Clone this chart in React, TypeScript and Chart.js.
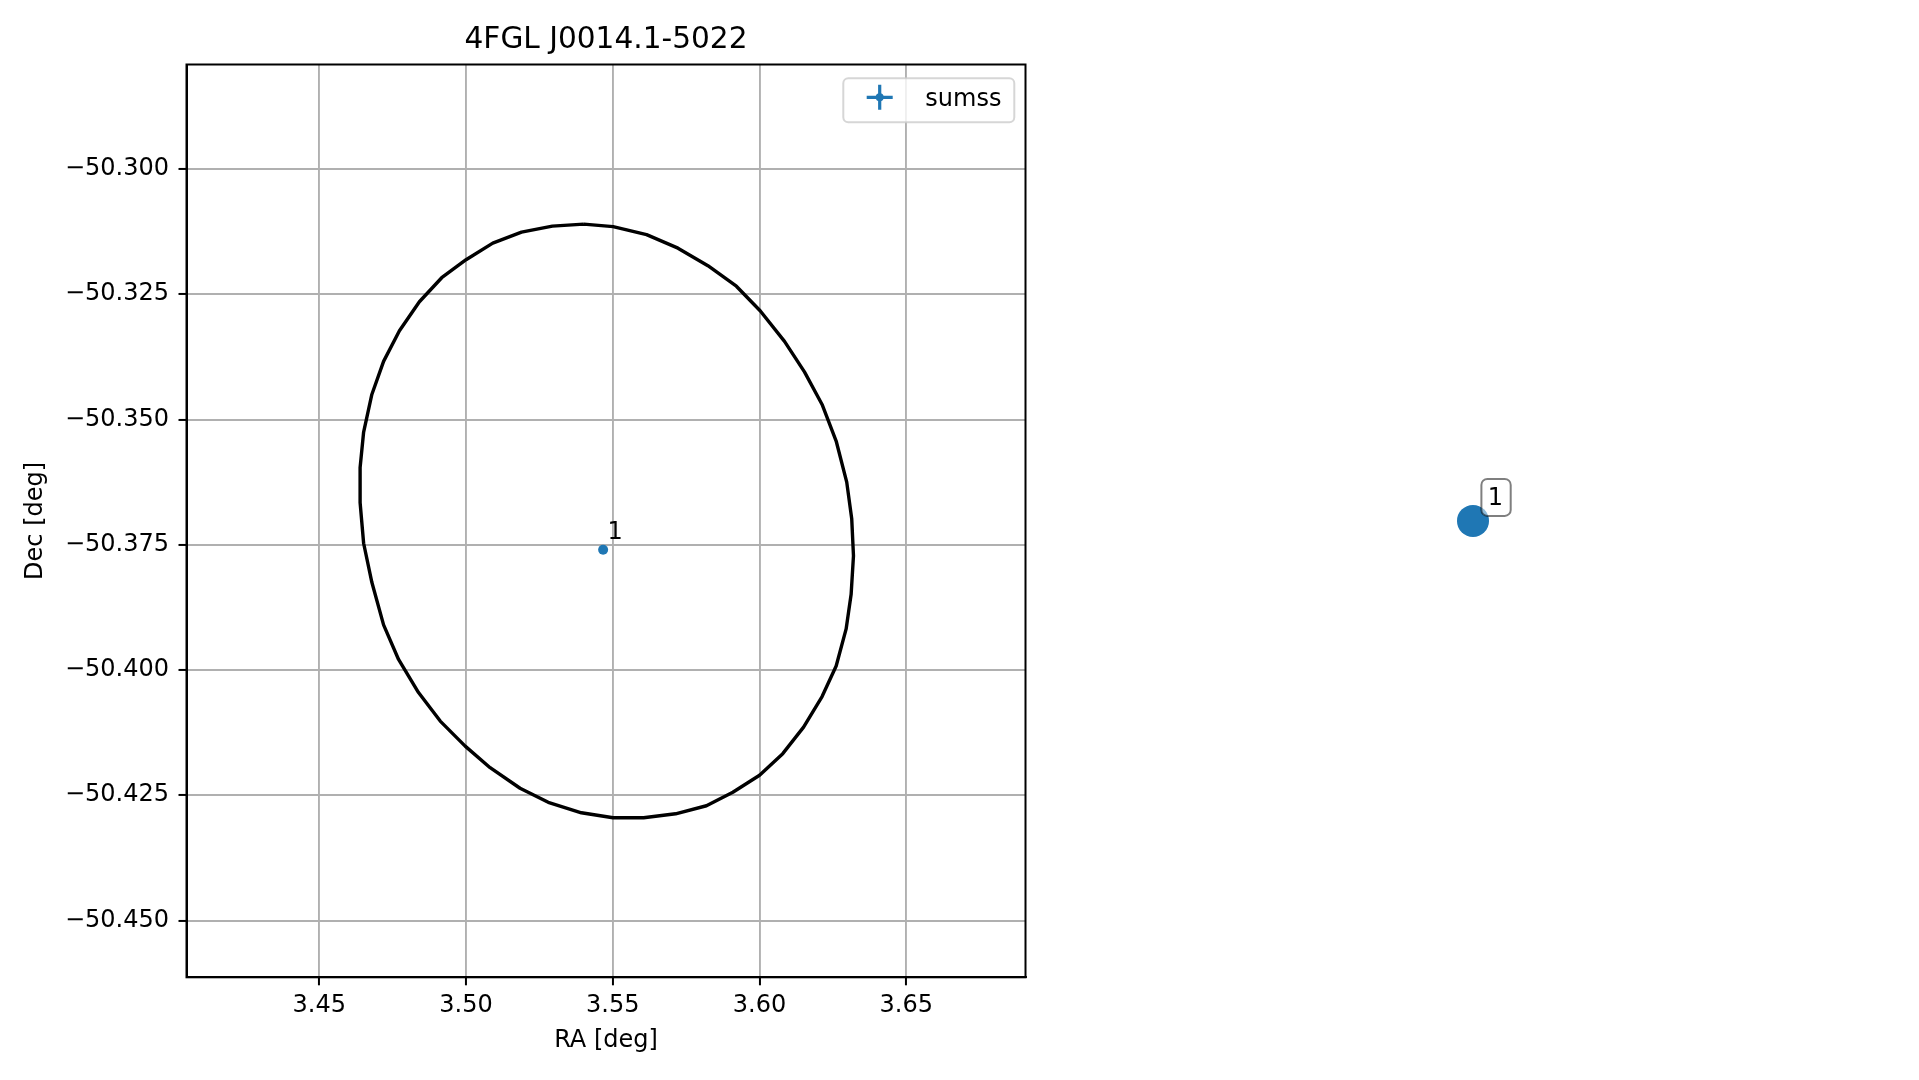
import React, { useEffect, useRef } from 'react';
import { Chart, registerables } from 'chart.js';

Chart.register(...registerables);

const FONT = '"DejaVu Sans", "Liberation Sans", sans-serif';

const chartTitle = '4FGL J0014.1-5022';
const xAxisLabel = 'RA [deg]';
const yAxisLabel = 'Dec [deg]';
const legendLabel = 'sumss';

// 95% error ellipse vertices (RA, Dec)
const ellipseRa = [
  3.5401, 3.5501, 3.5615, 3.5722, 3.5824, 3.5921, 3.6002, 3.6085, 3.6153, 3.6213,
  3.6261, 3.6297, 3.6314, 3.632, 3.6312, 3.6295, 3.6261, 3.6213, 3.615, 3.6079,
  3.6, 3.5909, 3.5819, 3.5714, 3.5605, 3.5501, 3.5393, 3.528, 3.5184, 3.5082,
  3.4997, 3.4912, 3.4838, 3.477, 3.4719, 3.4679, 3.4651, 3.4639, 3.4639, 3.4651,
  3.4679, 3.4719, 3.4773, 3.4841, 3.4917, 3.5, 3.5091, 3.5189, 3.5294,
];
const ellipseDec = [
  -50.311, -50.3115, -50.3131, -50.3158, -50.3193, -50.3234, -50.3283, -50.3344, -50.3405, -50.347,
  -50.3543, -50.3625, -50.3698, -50.3772, -50.3849, -50.3918, -50.3992, -50.4053, -50.4114, -50.4167,
  -50.421, -50.4244, -50.4271, -50.4287, -50.4295, -50.4295, -50.4285, -50.4264, -50.4236, -50.4195,
  -50.4152, -50.4102, -50.4045, -50.3979, -50.391, -50.3825, -50.3747, -50.3666, -50.3596, -50.3525,
  -50.345, -50.3384, -50.3323, -50.3265, -50.3217, -50.3181, -50.3148, -50.3126, -50.3114,
];

// SUMSS counterpart
const sumssRa = [3.5467];
const sumssDec = [-50.376];
const sumssIds = ['1'];

const xTicks = [3.45, 3.5, 3.55, 3.6, 3.65];
const xTickLabels = ['3.45', '3.50', '3.55', '3.60', '3.65'];
const yTicks = [-50.45, -50.425, -50.4, -50.375, -50.35, -50.325, -50.3];
const yTickLabels = ['\u221250.450', '\u221250.425', '\u221250.400', '\u221250.375', '\u221250.350', '\u221250.325', '\u221250.300'];

const xLimits = [3.40475, 3.69061];
const yLimits = [-50.46134, -50.27914];

const BLUE = '#1f77b4';

function roundRect(ctx: CanvasRenderingContext2D, x: number, y: number, w: number, h: number, r: number) {
  ctx.beginPath();
  ctx.moveTo(x + r, y);
  ctx.lineTo(x + w - r, y);
  ctx.arcTo(x + w, y, x + w, y + r, r);
  ctx.lineTo(x + w, y + h - r);
  ctx.arcTo(x + w, y + h, x + w - r, y + h, r);
  ctx.lineTo(x + r, y + h);
  ctx.arcTo(x, y + h, x, y + h - r, r);
  ctx.lineTo(x, y + r);
  ctx.arcTo(x, y, x + r, y, r);
  ctx.closePath();
}

const leftDecor = {
  id: 'leftDecor',
  afterDraw(chart: any) {
    const { ctx, chartArea: a } = chart;
    ctx.save();
    // spines
    ctx.strokeStyle = '#000';
    ctx.lineWidth = 2;
    ctx.strokeRect(a.left, a.top, a.right - a.left, a.bottom - a.top);
    // point labels
    const meta = chart.getDatasetMeta(1);
    ctx.font = `24px ${FONT}`;
    ctx.fillStyle = '#000';
    ctx.textAlign = 'left';
    ctx.textBaseline = 'alphabetic';
    meta.data.forEach((el: any, i: number) => {
      ctx.fillText(sumssIds[i], el.x + 4.4, el.y - 10.4);
    });
    // legend
    const bw = 171;
    const bh = 44;
    const bx = a.right - 11.2 - bw;
    const by = a.top + 13.8;
    roundRect(ctx, bx, by, bw, bh, 5);
    ctx.fillStyle = 'rgba(255,255,255,0.8)';
    ctx.fill();
    ctx.strokeStyle = 'rgba(204,204,204,0.8)';
    ctx.lineWidth = 2;
    ctx.stroke();
    const cx = bx + 36.4;
    const cy = by + 19;
    ctx.strokeStyle = BLUE;
    ctx.lineWidth = 3.2;
    ctx.beginPath();
    ctx.moveTo(cx - 13, cy);
    ctx.lineTo(cx + 13, cy);
    ctx.moveTo(cx, cy - 12.5);
    ctx.lineTo(cx, cy + 12.5);
    ctx.stroke();
    ctx.fillStyle = BLUE;
    ctx.beginPath();
    ctx.arc(cx, cy, 4, 0, Math.PI * 2);
    ctx.fill();
    ctx.fillStyle = '#000';
    ctx.font = `24px ${FONT}`;
    ctx.fillText(legendLabel, bx + 82, by + 27.4);
    ctx.restore();
  },
};

const rightDecor = {
  id: 'rightDecor',
  afterDraw(chart: any) {
    const { ctx } = chart;
    const meta = chart.getDatasetMeta(0);
    ctx.save();
    meta.data.forEach((el: any, i: number) => {
      const px = el.x;
      const py = el.y;
      roundRect(ctx, px + 8.4, py - 42, 29.3, 37, 6);
      ctx.fillStyle = 'rgba(255,255,255,0.5)';
      ctx.fill();
      ctx.strokeStyle = 'rgba(0,0,0,0.5)';
      ctx.lineWidth = 2;
      ctx.stroke();
      ctx.fillStyle = '#000';
      ctx.font = `24px ${FONT}`;
      ctx.textAlign = 'left';
      ctx.textBaseline = 'alphabetic';
      ctx.fillText(sumssIds[i], px + 14.7, py - 16);
    });
    ctx.restore();
  },
};

function LeftPanel() {
  const ref = useRef<HTMLCanvasElement>(null);
  useEffect(() => {
    if (!ref.current) return;
    const ellipseData = ellipseRa.map((x, i) => ({ x, y: ellipseDec[i] }));
    ellipseData.push({ x: ellipseRa[0], y: ellipseDec[0] });
    const sumssData = sumssRa.map((x, i) => ({ x, y: sumssDec[i] }));
    const gridCfg = {
      color: '#b0b0b0',
      lineWidth: 1.9,
      tickColor: '#000',
      tickLength: 8,
      tickWidth: 2,
      drawTicks: true,
    };
    const chart = new Chart(ref.current, {
      type: 'scatter',
      data: {
        datasets: [
          {
            label: 'ellipse',
            data: ellipseData,
            showLine: true,
            borderColor: '#000',
            backgroundColor: '#000',
            borderWidth: 3.4,
            borderJoinStyle: 'round',
            pointRadius: 0,
            fill: false,
            tension: 0,
          } as any,
          {
            label: legendLabel,
            data: sumssData,
            pointRadius: 5,
            pointBorderWidth: 0,
            backgroundColor: BLUE,
            borderColor: BLUE,
          },
        ],
      },
      options: {
        responsive: false,
        animation: false,
        events: [],
        layout: { padding: { top: 0, left: 0, right: 74.5, bottom: 0 } },
        plugins: {
          legend: { display: false },
          tooltip: { enabled: false },
          title: {
            display: true,
            text: chartTitle,
            fullSize: false,
            color: '#000',
            font: { family: FONT, size: 29.6, weight: 'normal', lineHeight: 1.2 },
            padding: { top: 23.0, bottom: 5.98 },
          },
        },
        scales: {
          x: {
            type: 'linear',
            position: 'bottom',
            min: xLimits[0],
            max: xLimits[1],
            afterBuildTicks: (axis: any) => {
              axis.ticks = xTicks.map((v) => ({ value: v }));
            },
            afterFit: (axis: any) => {
              axis.height = 102.7;
            },
            ticks: {
              autoSkip: false,
              maxRotation: 0,
              color: '#000',
              padding: 6.3,
              font: { family: FONT, size: 24, lineHeight: 1.2 },
              callback: (_v: any, i: number) => xTickLabels[i],
            },
            grid: gridCfg,
            border: { display: true, color: '#000', width: 2 },
            title: {
              display: true,
              text: xAxisLabel,
              color: '#000',
              font: { family: FONT, size: 24, lineHeight: 1.2 },
              padding: { top: 0, bottom: 24.6 },
            },
          },
          y: {
            type: 'linear',
            position: 'left',
            min: yLimits[0],
            max: yLimits[1],
            afterBuildTicks: (axis: any) => {
              axis.ticks = yTicks.map((v) => ({ value: v }));
            },
            afterFit: (axis: any) => {
              axis.width = 186.5;
            },
            ticks: {
              autoSkip: false,
              color: '#000',
              padding: 9.5,
              font: { family: FONT, size: 24, lineHeight: 1.2 },
              callback: (_v: any, i: number) => yTickLabels[i],
            },
            grid: gridCfg,
            border: { display: true, color: '#000', width: 2 },
            title: {
              display: true,
              text: yAxisLabel,
              color: '#000',
              font: { family: FONT, size: 24, lineHeight: 1.2 },
              padding: { top: 21.3, bottom: 0 },
            },
          },
        },
      } as any,
      plugins: [leftDecor],
    });
    return () => chart.destroy();
  }, []);
  return (
    <canvas
      ref={ref}
      width={1100}
      height={1080}
      style={{ position: 'absolute', left: 0, top: 0, width: 1100, height: 1080 }}
    />
  );
}

function RightPanel() {
  const ref = useRef<HTMLCanvasElement>(null);
  useEffect(() => {
    if (!ref.current) return;
    const sumssData = sumssRa.map((x, i) => ({ x, y: sumssDec[i] }));
    const half = 0.1;
    const chart = new Chart(ref.current, {
      type: 'scatter',
      data: {
        datasets: [
          {
            label: legendLabel,
            data: sumssData,
            pointRadius: 16,
            pointBorderWidth: 0,
            backgroundColor: BLUE,
            borderColor: BLUE,
          },
        ],
      },
      options: {
        responsive: false,
        animation: false,
        events: [],
        layout: { padding: { top: 64.5, left: 0, right: 0, bottom: 102.7 } },
        plugins: { legend: { display: false }, tooltip: { enabled: false } },
        scales: {
          x: { type: 'linear', display: false, min: sumssRa[0] - half, max: sumssRa[0] + half },
          y: { type: 'linear', display: false, min: sumssDec[0] - half, max: sumssDec[0] + half },
        },
      } as any,
      plugins: [rightDecor],
    });
    return () => chart.destroy();
  }, []);
  return (
    <canvas
      ref={ref}
      width={838}
      height={1080}
      style={{ position: 'absolute', left: 1054, top: 0, width: 838, height: 1080 }}
    />
  );
}

export default function App() {
  return (
    <div style={{ position: 'absolute', left: 0, top: 0, width: 1919, height: 1080, background: '#fff', overflow: 'hidden' }}>
      <LeftPanel />
      <RightPanel />
    </div>
  );
}
